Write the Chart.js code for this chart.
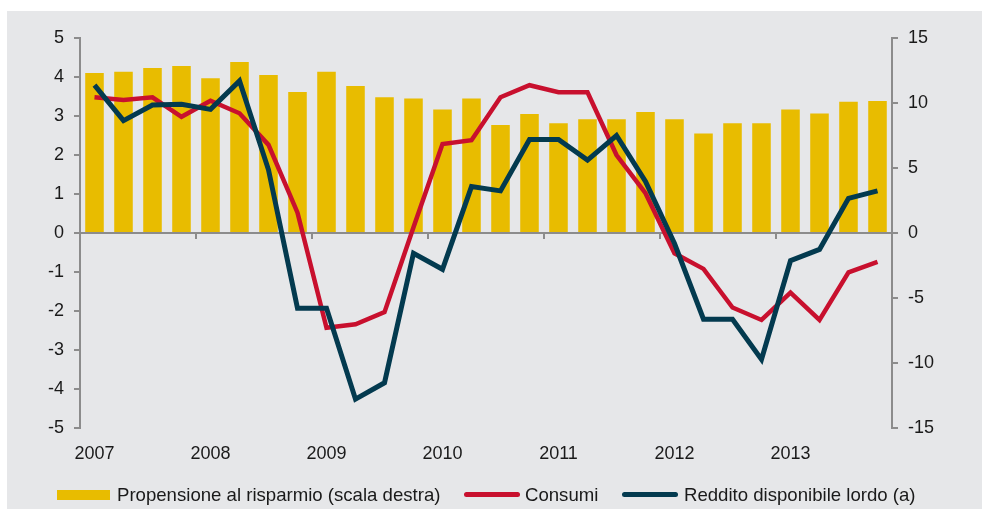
<!DOCTYPE html>
<html>
<head>
<meta charset="utf-8">
<script src="https://cdn.jsdelivr.net/npm/chart.js@4/dist/chart.umd.min.js"></script>
<style>
  body { margin: 0; background: #fff; width: 982px; height: 509px; overflow: hidden;
         font-family: "Liberation Sans", Arial, sans-serif; }
  #wrap { position: absolute; left: 7px; top: 11px; width: 975px; height: 498px; background: #e6e7e9; }
  #chart { position: absolute; left: 0; top: 0; }
  .sw { position: absolute; }
  .txt { position: absolute; top: 473px; font-size: 18.6px; line-height: 22px; color: #1a1a1a; white-space: nowrap; }
</style>
</head>
<body>
<div id="wrap">
  <canvas id="chart" width="975" height="498"></canvas>
  <div class="sw" style="left:50px;top:479px;width:53px;height:10px;background:#e8bc00"></div>
  <div class="txt" style="left:110px">Propensione al risparmio (scala destra)</div>
  <div class="sw" style="left:457px;top:481px;width:56px;height:5px;border-radius:3px;background:#c8102e"></div>
  <div class="txt" style="left:518px">Consumi</div>
  <div class="sw" style="left:615px;top:481px;width:56px;height:5px;border-radius:3px;background:#033a4f"></div>
  <div class="txt" style="left:677px">Reddito disponibile lordo (a)</div>
</div>
<script>
// quarterly categories, 2007 Q1 - 2013 Q4
const quarters = [
  '2007 T1','2007 T2','2007 T3','2007 T4',
  '2008 T1','2008 T2','2008 T3','2008 T4',
  '2009 T1','2009 T2','2009 T3','2009 T4',
  '2010 T1','2010 T2','2010 T3','2010 T4',
  '2011 T1','2011 T2','2011 T3','2011 T4',
  '2012 T1','2012 T2','2012 T3','2012 T4',
  '2013 T1','2013 T2','2013 T3','2013 T4'
];
const years = ['2007', '2008', '2009', '2010', '2011', '2012', '2013'];

// propensione al risparmio (scala destra)
const risparmio = [12.3, 12.4, 12.7, 12.85, 11.9, 13.15, 12.15, 10.85,
                   12.4, 11.3, 10.45, 10.35, 9.5, 10.35, 8.3, 9.15,
                   8.45, 8.75, 8.75, 9.3, 8.75, 7.65, 8.45, 8.45,
                   9.5, 9.2, 10.1, 10.15];
// consumi (scala sinistra)
const consumi = [3.48, 3.41, 3.48, 2.98, 3.39, 3.07, 2.26, 0.52,
                 -2.43, -2.34, -2.03, 0.15, 2.28, 2.38, 3.48, 3.79,
                 3.61, 3.61, 2.0, 1.02, -0.52, -0.92, -1.91, -2.23,
                 -1.53, -2.23, -1.01, -0.74];
// reddito disponibile lordo (scala sinistra)
const reddito = [3.79, 2.88, 3.28, 3.30, 3.17, 3.90, 1.62, -1.93,
                 -1.93, -4.26, -3.84, -0.52, -0.93, 1.19, 1.08, 2.40,
                 2.40, 1.87, 2.50, 1.32, -0.27, -2.21, -2.21, -3.24,
                 -0.71, -0.42, 0.89, 1.08];

const axisGray = '#8c8c8c';
const tickFont = { family: '"Liberation Sans", Arial, sans-serif', size: 18 };

new Chart(document.getElementById('chart'), {
  type: 'bar',
  data: {
    labels: quarters,
    datasets: [
      {
        type: 'line', label: 'Reddito disponibile lordo (a)', data: reddito,
        borderColor: '#033a4f', borderWidth: 5, pointRadius: 0, tension: 0,
        yAxisID: 'y', order: 1
      },
      {
        type: 'line', label: 'Consumi', data: consumi,
        borderColor: '#c8102e', borderWidth: 4.5, pointRadius: 0, tension: 0,
        yAxisID: 'y', order: 2
      },
      {
        type: 'bar', label: 'Propensione al risparmio (scala destra)', data: risparmio,
        backgroundColor: '#e8bc00', borderWidth: 0,
        categoryPercentage: 1, barPercentage: 0.64,
        yAxisID: 'y1', order: 3
      }
    ]
  },
  options: {
    responsive: false,
    animation: false,
    layout: { padding: { top: 27, left: 0, right: 0, bottom: 0 } },
    plugins: { legend: { display: false }, tooltip: { enabled: false } },
    scales: {
      x: {
        position: 'bottom',
        grid: { display: false },
        border: { display: false },
        ticks: {
          autoSkip: false, maxRotation: 0, padding: 7, color: '#1a1a1a', font: tickFont,
          callback: (v, i) => (i % 4 === 0 ? years[i / 4] : '')
        },
        afterFit: s => { s.height = 81; }
      },
      x2: {
        type: 'category',
        position: { y: 0 },
        offset: true,
        grid: {
          offset: true, drawOnChartArea: false, tickLength: 5, lineWidth: 2,
          color: c => (c.index % 4 === 0 ? axisGray : 'rgba(0,0,0,0)')
        },
        border: { color: axisGray, width: 2 },
        ticks: { display: false }
      },
      y: {
        position: 'left',
        min: -5, max: 5,
        ticks: { stepSize: 1, padding: 10, color: '#1a1a1a', font: tickFont },
        grid: { drawOnChartArea: false, tickLength: 6, color: axisGray, lineWidth: 2 },
        border: { color: axisGray, width: 2 },
        afterFit: s => { s.width = 73; }
      },
      y1: {
        position: 'right',
        min: -15, max: 15,
        ticks: { stepSize: 5, padding: 10, color: '#1a1a1a', font: tickFont },
        grid: { drawOnChartArea: false, tickLength: 6, color: axisGray, lineWidth: 2 },
        border: { color: axisGray, width: 2 },
        afterFit: s => { s.width = 90; }
      }
    }
  }
});
</script>
</body>
</html>
